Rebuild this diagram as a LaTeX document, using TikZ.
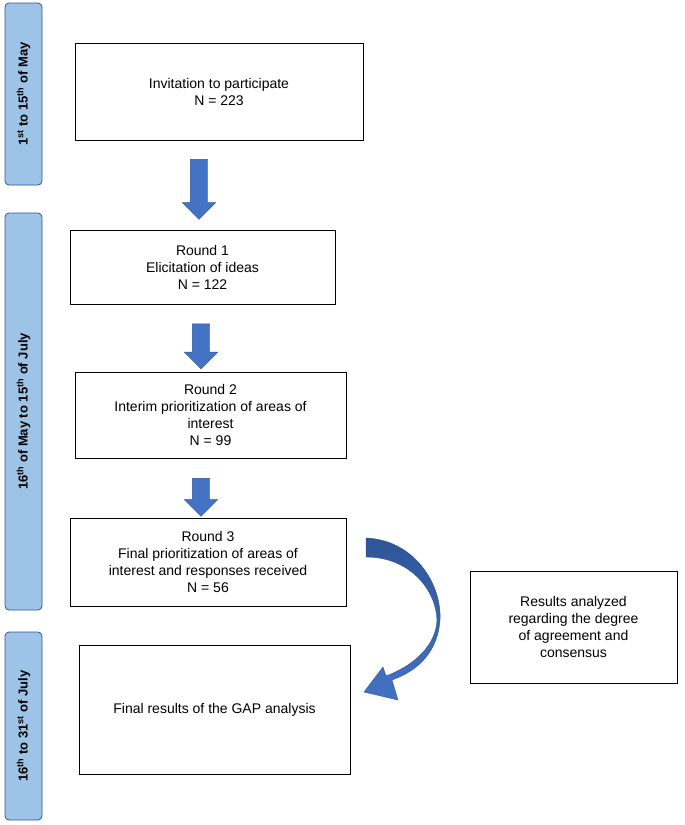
\documentclass[tikz,border=0pt]{standalone}
\usepackage{fontspec}
\setmainfont{Liberation Sans}
\usetikzlibrary{shapes.arrows}
\definecolor{barblue}{HTML}{9DC3E6}
\definecolor{arrblue}{HTML}{4472C4}
\definecolor{arrdark}{HTML}{2F5597}

\begin{document}
\begin{tikzpicture}[x=1pt, y=-1pt, font=\fontsize{14}{17}\selectfont]
    \tikzset{box/.style={draw=black, thick, align=center, inner sep=0pt},
             period/.style={draw=arrdark, fill=barblue, thick, rounded corners=4pt,
                            inner sep=0pt},
             when/.style={rotate=90, font=\bfseries\fontsize{13}{15}\selectfont},
             down/.style={single arrow, draw=arrdark, fill=arrblue, rotate=-90,
                          inner xsep=0pt, inner ysep=8.5pt, single arrow head extend=8pt,
                          single arrow tip angle=90, minimum height=#1}}

    \useasboundingbox (0,0) rectangle (685,825);

    % time periods
    \node[period, minimum width=37pt, minimum height=182pt] (P1) at (23.5,94) {};
    \node[when] at (P1) {1\textsuperscript{st} to 15\textsuperscript{th} of May};
    \node[period, minimum width=37pt, minimum height=397pt] (P2) at (23.5,411.5) {};
    \node[when] at (P2) {16\textsuperscript{th} of May to 15\textsuperscript{th} of July};
    \node[period, minimum width=37pt, minimum height=188pt] (P3) at (23.5,726) {};
    \node[when] at (P3) {16\textsuperscript{th} to 31\textsuperscript{st} of July};

    % steps
    \node[box, minimum width=288pt, minimum height=97pt]  (B1) at (219,91.5)
        {Invitation to participate\\N = 223};
    \node[box, minimum width=265pt, minimum height=74pt]  (B2) at (202.5,267)
        {Round 1\\Elicitation of ideas\\N = 122};
    \node[box, minimum width=271pt, minimum height=86pt]  (B3) at (210.5,415)
        {Round 2\\Interim prioritization of areas of\\interest\\N = 99};
    \node[box, minimum width=276pt, minimum height=88pt]  (B4) at (208,562)
        {Round 3\\Final prioritization of areas of\\interest and responses received\\N = 56};
    \node[box, minimum width=207pt, minimum height=112pt] (B5) at (573.5,627)
        {Results analyzed\\regarding the degree\\of agreement and\\consensus};
    \node[box, minimum width=271pt, minimum height=129pt] (B6) at (214.5,709.5)
        {Final results of the GAP analysis};

    % block arrows
    \node[down=60pt] (A1) at (199,185) {};
    \node[down=45pt] (A2) at (201,342) {};
    \node[down=38pt] (A3) at (201,493) {};

    % curved arrow to final results
    \shade[top color=arrdark, bottom color=arrblue, draw=arrdark]
        (366,538) .. controls (415,540) and (442,585) .. (440,620)
        .. controls (438,650) and (420,670) .. (392,680)
        -- (398,700) -- (364,692) -- (383,667) -- (386,676)
        .. controls (415,665) and (436,645) .. (437,620)
        .. controls (436,590) and (410,557) .. (366,557) -- cycle;
\end{tikzpicture}
\end{document}
